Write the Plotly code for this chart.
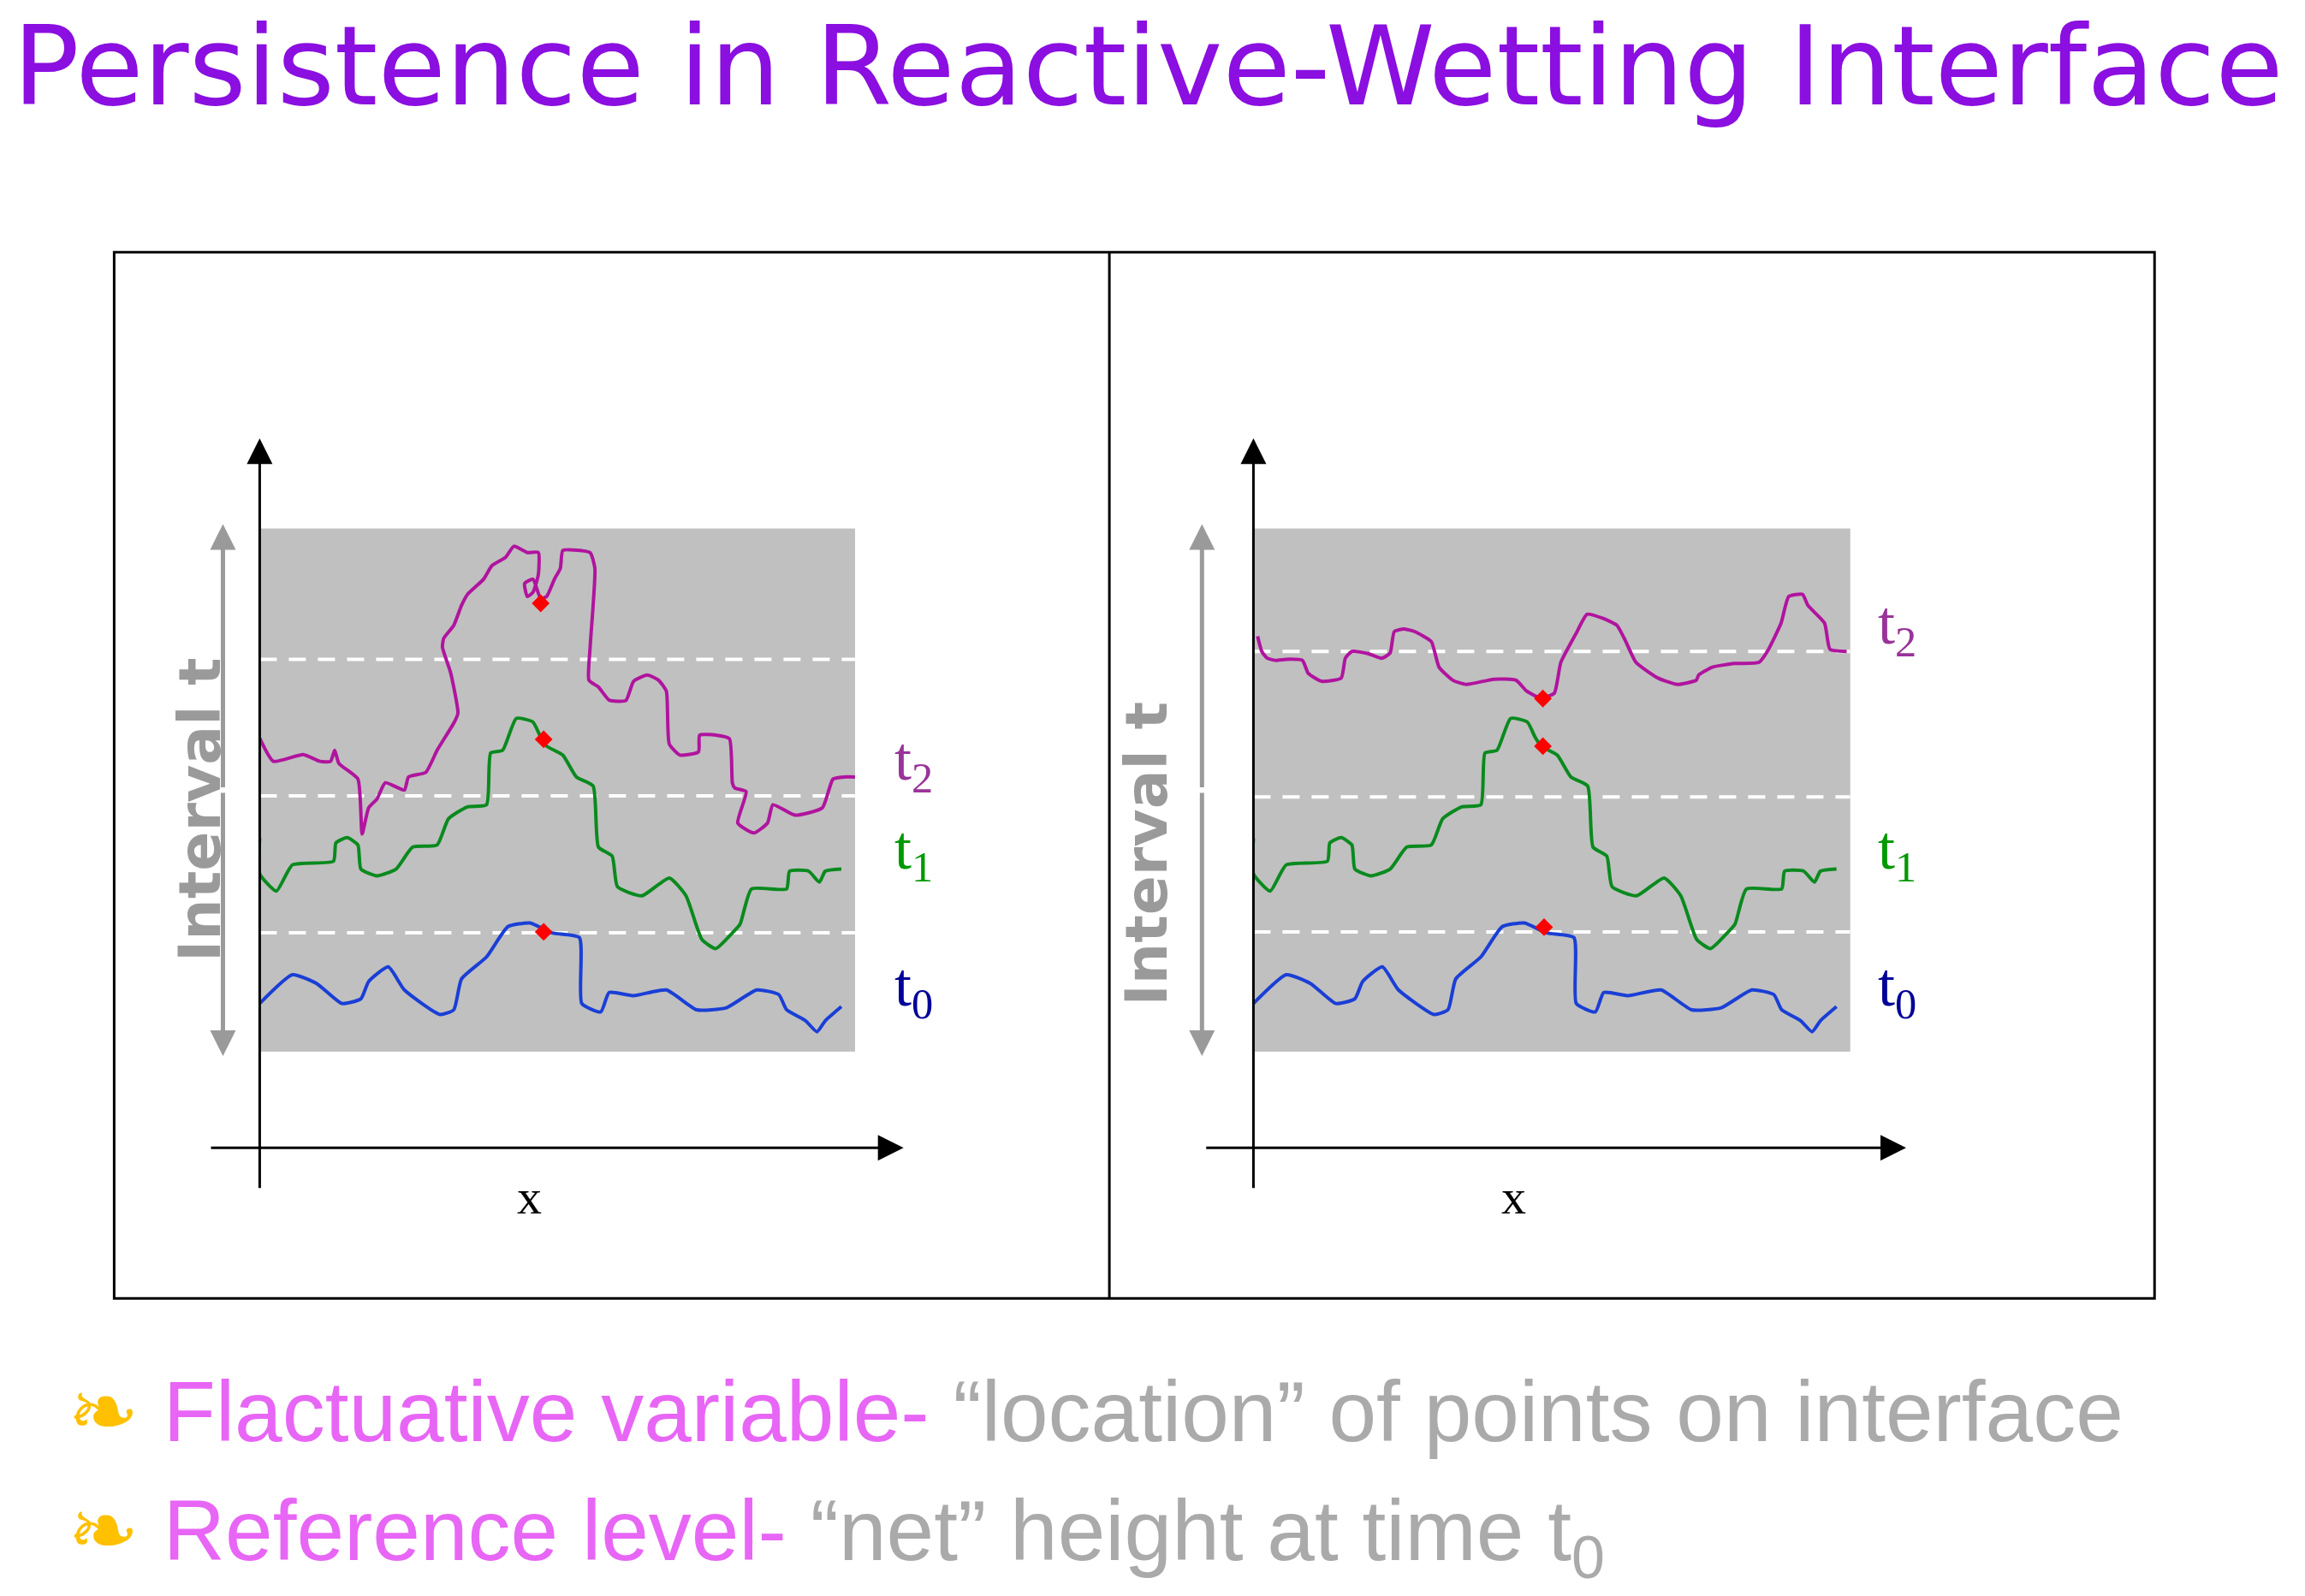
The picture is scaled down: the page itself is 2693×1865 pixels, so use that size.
import plotly.graph_objects as go

W, H = 2693, 1865
SX, SY = 1568, 1080   # layout measured on a 1568x1080 grid
OFF = 5               # page body margin, in grid units

t0_x = [0, 5.5, 9.6, 13.8, 17.0, 18.3, 21.6, 24.3, 30.3, 32.6, 33.9, 38.1, 41.7, 45.4, 49.1, 53.7, 54.1, 57.3,
        58.7, 62.8, 68.3, 73.4, 78.4, 83.5, 87.2, 88.5, 91.7, 93.6, 95.0, 97.7]
t0_y = [9.2, 14.7, 13.0, 9.2, 10.1, 13.4, 16.2, 11.8, 7.1, 8.0, 13.9, 18.1, 23.9, 24.6, 22.7, 21.8, 9.2, 7.6,
        11.3, 10.7, 11.8, 8.0, 8.4, 11.8, 10.9, 8.0, 5.9, 3.8, 5.9, 8.6]
t1_x = [0, 0, 2.8, 5.5, 12.4, 12.8, 14.7, 16.5, 17.0, 19.7, 22.9, 25.7, 29.8, 31.7, 34.9, 38.1, 38.8, 40.8, 43.1,
        45.9, 47.2, 48.2, 50.9, 53.2, 56.0, 56.9, 59.2, 60.1, 64.2, 68.8, 71.6, 74.3, 76.6, 79.4, 80.7, 82.6, 88.5,
        89.0, 92.2, 94.0, 95.0, 97.7]
t1_y = [40.8, 34.0, 30.7, 35.7, 36.4, 39.9, 40.9, 39.5, 34.9, 33.6, 34.9, 39.1, 39.5, 44.5, 46.8, 47.2, 57.1, 57.6,
        63.7, 63.0, 60.1, 58.4, 56.7, 52.5, 50.8, 39.1, 37.4, 31.5, 29.8, 33.2, 29.8, 21.4, 19.7, 22.7, 24.4, 31.1,
        31.1, 34.5, 34.5, 32.4, 34.5, 34.9]
t2_left_x = [0, 2.3, 7.3, 10.1, 11.9, 12.6, 13.3, 16.5, 17.2, 18.3, 19.7, 21.1, 24.3, 25.0, 27.9, 29.8, 32.7, 33.3,
             32.1, 30.7, 30.9, 32.6, 33.9, 34.9, 37.6, 39.0, 41.3, 42.7, 44.95, 46.8, 46.8, 45.9, 44.95, 44.5, 45.9,
             47.2, 48.2, 49.5, 50.5, 50.9, 52.8, 55.5, 56.3, 55.5, 55.3, 56.9, 58.7, 61.5, 62.8, 65.1, 67.0, 68.3,
             68.8, 70.6, 73.7, 73.9, 76.6, 78.9, 79.4, 79.8, 81.7, 80.3, 83.0, 85.3, 86.2, 89.9, 94.5, 96.3, 98.2, 100]
t2_left_y = [59.9, 55.5, 56.8, 55.5, 55.5, 57.6, 55.1, 52.1, 41.6, 46.6, 48.3, 51.4, 50.0, 52.5, 53.4, 57.6, 63.0,
             64.7, 72.3, 77.3, 79.0, 81.5, 85.3, 87.4, 90.3, 92.9, 94.5, 96.6, 95.4, 95.4, 91.2, 87.8, 87.0, 89.5,
             90.3, 86.6, 87.0, 90.3, 92.4, 95.8, 95.9, 95.4, 92.4, 77.3, 71.0, 69.7, 67.2, 67.1, 70.8, 72.0, 71.0,
             68.9, 58.8, 56.7, 57.3, 60.5, 60.5, 59.8, 51.3, 50.4, 49.7, 43.7, 41.8, 43.7, 47.2, 45.2, 46.6, 52.1,
             52.5, 52.5]
t2_right_x = [0.7, 1.4, 2.3, 3.7, 5.5, 8.2, 9.2, 11.4, 14.7, 15.4, 16.5, 19.2, 21.5, 22.9, 23.6, 25.2, 27.0, 29.8,
              31.1, 33.4, 35.7, 40.3, 44.0, 45.8, 48.1, 50.4, 51.5, 54.0, 55.9, 58.6, 60.9, 62.3, 64.1, 67.8, 71.0,
              74.2, 74.6, 76.9, 80.6, 84.7, 86.1, 88.4, 89.7, 92.0, 92.9, 95.7, 96.6, 99.4]
t2_right_y = [79.4, 76.5, 75.2, 74.8, 75.0, 74.8, 72.3, 70.8, 71.4, 75.2, 76.5, 76.1, 75.2, 76.2, 80.3, 80.8, 80.3,
              78.4, 73.5, 71.0, 70.2, 71.2, 71.0, 68.9, 67.6, 68.5, 74.4, 79.8, 83.6, 82.8, 81.5, 78.6, 74.4, 71.4,
              70.2, 71.0, 72.0, 73.5, 74.2, 74.4, 76.5, 81.9, 87.0, 87.4, 85.3, 81.9, 76.9, 76.5]
ref_left = [22.7, 48.9, 75.0]
ref_right = [22.9, 48.7, 76.5]
pts_left_x, pts_left_y = [47.7, 47.7, 47.2], [22.9, 59.7, 85.7]
pts_right_x, pts_right_y = [48.7, 48.5, 48.5], [23.8, 58.4, 67.5]

C0, C1, C2 = "#1a3fd6", "#0a8a1e", "#b0149e"

fig = go.Figure()


def px(x):
    return (x - OFF) / SX


def py(y):
    return 1 - (y - OFF) / SY


panels = [
    dict(xa="x", ya="y", t2x=t2_left_x, t2y=t2_left_y, ref=ref_left, px_=pts_left_x, py_=pts_left_y),
    dict(xa="x2", ya="y2", t2x=t2_right_x, t2y=t2_right_y, ref=ref_right, px_=pts_right_x, py_=pts_right_y),
]

for p in panels:
    for lvl in p["ref"]:
        fig.add_trace(go.Scatter(x=[0, 100], y=[lvl, lvl], mode="lines", xaxis=p["xa"], yaxis=p["ya"],
                                 line=dict(color="white", width=4, dash="20px,14px")))
    for xs, ys, c in [(t0_x, t0_y, C0), (t1_x, t1_y, C1), (p["t2x"], p["t2y"], C2)]:
        fig.add_trace(go.Scatter(x=xs, y=ys, mode="lines", xaxis=p["xa"], yaxis=p["ya"],
                                 line=dict(color=c, width=4, shape="spline", smoothing=0.5)))
    fig.add_trace(go.Scatter(x=p["px_"], y=p["py_"], mode="markers", xaxis=p["xa"], yaxis=p["ya"],
                             marker=dict(symbol="diamond", color="red", size=16)))

ax_common = dict(range=[0, 100], visible=False, fixedrange=True)
fig.update_layout(
    width=W, height=H, margin=dict(l=0, r=0, t=0, b=0), showlegend=False,
    paper_bgcolor="white", plot_bgcolor="#c0c0c0",
    xaxis=dict(domain=[px(177), px(582)], **ax_common),
    yaxis=dict(domain=[py(712), py(358)], **ax_common),
    xaxis2=dict(domain=[px(853), px(1259)], anchor="y2", **ax_common),
    yaxis2=dict(domain=[py(712), py(358)], anchor="x2", **ax_common),
)

shapes = [
    dict(type="rect", x0=px(78), x1=px(1466), y0=py(879), y1=py(171), line=dict(color="black", width=3)),
    dict(type="line", x0=px(755), x1=px(755), y0=py(879), y1=py(171), line=dict(color="black", width=3)),
]
for s in shapes:
    s.update(xref="paper", yref="paper")
fig.update_layout(shapes=shapes)

K = W / SX
for vx, hx0, hx1 in [(177, 143, 615), (853, 820, 1297)]:
    # vertical axis
    fig.add_annotation(x=px(vx), y=py(297), xref="paper", yref="paper", ax=0, ay=(808 - 297) * K,
                       showarrow=True, arrowhead=2, arrowsize=2, arrowwidth=3, arrowcolor="black", text="")
    # horizontal axis
    fig.add_annotation(x=px(hx1), y=py(777), xref="paper", yref="paper", ax=-(hx1 - hx0) * K, ay=0,
                       showarrow=True, arrowhead=2, arrowsize=2, arrowwidth=3, arrowcolor="black", text="")
    fig.add_annotation(x=px((vx + hx1) / 2 - 45), y=py(810), xref="paper", yref="paper", yanchor="middle",
                       text="x", showarrow=False, font=dict(family="Liberation Serif", size=58, color="black"))

for gx, tx, ty in [(152, 112, 548), (818, 780, 578)]:
    for y_head in (355, 715):
        fig.add_annotation(x=px(gx), y=py(y_head), xref="paper", yref="paper", ax=0, ay=(535 - y_head) * K,
                           showarrow=True, arrowhead=2, arrowsize=1.2, arrowwidth=5, arrowcolor="#9a9a9a", text="")
    fig.add_annotation(x=px(tx), y=py(ty), xref="paper", yref="paper", text="<b>Interval t</b>", textangle=-90,
                       showarrow=False, font=dict(family="DejaVu Sans", size=68, color="#9a9a9a"))

labels = [("t<sub>2</sub>", "#993399"), ("t<sub>1</sub>", "#009900"), ("t<sub>0</sub>", "#000099")]
for lx, ys in [(622, [517, 577, 670]), (1305, [425, 577, 670])]:
    for (txt, col), y in zip(labels, ys):
        fig.add_annotation(x=px(lx), y=py(y), xref="paper", yref="paper", yanchor="middle", text=txt,
                           showarrow=False, font=dict(family="Liberation Serif", size=72, color=col))

fig.add_annotation(x=px(8), y=py(45), xref="paper", yref="paper", xanchor="left", yanchor="middle",
                   showarrow=False, text="Persistence in Reactive-Wetting Interface",
                   font=dict(family="DejaVu Sans", size=129, color="#8a0fe0"))

bullets = [
    ("Flactuative variable-", " \u201clocation\u201d of points on interface", 955),
    ("Reference level-", " \u201cnet\u201d height at time t<sub>0</sub>", 1040),
]
for pink, grey, y in bullets:
    fig.add_annotation(x=px(45), y=py(y), xref="paper", yref="paper", xanchor="left", yanchor="middle",
                       showarrow=False,
                       text="<span style='color:#ffc000'>\u2767</span> "
                            f"<span style='color:#e866f5'>{pink}</span><span style='color:#aaaaaa'>{grey}</span>",
                       font=dict(family="Liberation Sans", size=100))

fig.write_html("out.html")
